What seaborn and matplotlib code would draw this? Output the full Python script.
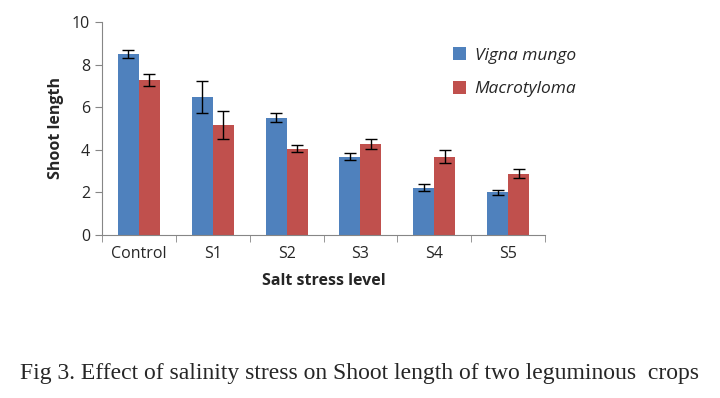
# Shoot length of two leguminous crops under salinity stress
import numpy as np
import pandas as pd
import seaborn as sns
import matplotlib.pyplot as plt

levels = ["Control", "S1", "S2", "S3", "S4", "S5"]
vigna = [8.5, 6.48, 5.5, 3.68, 2.23, 2.0]
vigna_err = [0.2, 0.75, 0.21, 0.15, 0.18, 0.1]
macro = [7.28, 5.17, 4.05, 4.28, 3.67, 2.88]
macro_err = [0.27, 0.66, 0.17, 0.25, 0.3, 0.22]
crops = ["Vigna mungo", "Macrotyloma"]

df = pd.DataFrame({
    "level": levels * 2,
    "crop": [crops[0]] * 6 + [crops[1]] * 6,
    "length": vigna + macro,
    "err": vigna_err + macro_err,
})

sns.set_style("white")
plt.rcParams["font.family"] = ["Open Sans", "DejaVu Sans"]

fig = plt.figure(figsize=(7.2, 3.98), dpi=100)
ax = fig.add_axes([102 / 720, 1 - 235 / 398, 443 / 720, 213 / 398])

sns.barplot(data=df, x="level", y="length", hue="crop", order=levels,
            hue_order=crops, palette=["#4F81BD", "#C0504D"], width=0.57,
            saturation=1, errorbar=None, linewidth=0, ax=ax)

# error bars at bar centres
for cont, crop in zip(ax.containers, crops):
    sub = df[df["crop"] == crop]
    xs = [p.get_x() + p.get_width() / 2 for p in cont.patches]
    ax.errorbar(xs, sub["length"], yerr=sub["err"], fmt="none",
                ecolor="black", elinewidth=1, capsize=4, capthick=1)

ax.set_ylim(0, 10)
ax.set_xlim(-0.5, 5.5)
ax.set_yticks([0, 2, 4, 6, 8, 10])
ax.set_xticks(np.arange(-0.5, 6, 1), minor=True)
ax.tick_params(axis="x", which="major", length=0, labelsize=11.5, pad=8)
ax.tick_params(axis="x", which="minor", length=5, color="#868686", bottom=True)
ax.tick_params(axis="y", length=5, color="#868686", labelsize=11.5, left=True)
for s in ["top", "right"]:
    ax.spines[s].set_visible(False)
for s in ["left", "bottom"]:
    ax.spines[s].set_color("#868686")

ax.set_xlabel("Salt stress level", fontsize=11.5, fontweight="bold", labelpad=8)
ax.set_ylabel("Shoot length", fontsize=11.5, fontweight="bold", labelpad=6)

ax.legend(loc="upper left", bbox_to_anchor=(0.757, 0.955), frameon=False,
          prop={"style": "italic", "size": 12.5}, handlelength=0.75,
          handleheight=0.75, handletextpad=0.5, labelspacing=1.0)

fig.text(0.5, 1 - 374 / 398, "Fig 3. Effect of salinity stress on Shoot length of two leguminous  crops",
         ha="center", va="center", fontsize=17, family="Liberation Serif")

fig.savefig("out.png", dpi=100)
